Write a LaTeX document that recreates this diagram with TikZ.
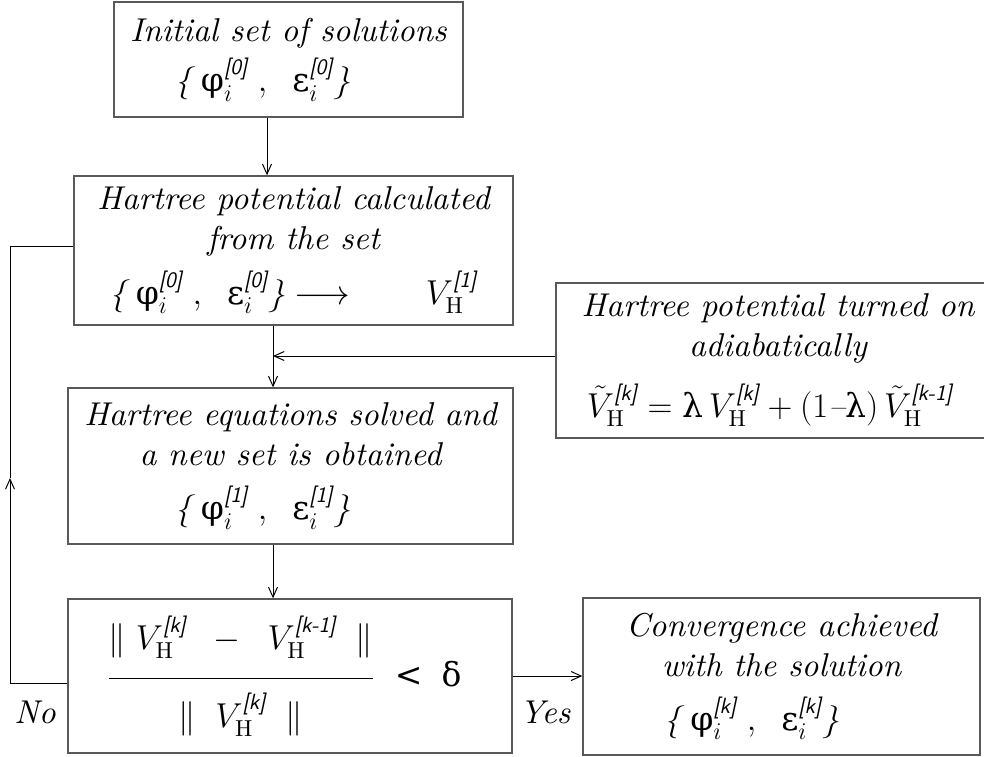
\documentclass[tikz,border=0pt]{standalone}
\usepackage{amsmath}
\usepackage{fontspec}
\setmainfont{lmroman10}[Extension=.otf,UprightFont=*-regular,ItalicFont=*-italic,BoldFont=*-bold]
\newfontfamily\grkfont{DejaVu Serif}
\usetikzlibrary{arrows.meta}
\newcommand{\gsym}[1]{\mbox{\grkfont\upshape #1}}
\newcommand{\idx}[1]{\mbox{\fontsize{11}{11}\selectfont\sffamily\itshape #1}}
\newcommand{\VH}[1]{V_{\mathrm{H}}^{\idx{#1}}}
\newcommand{\solset}[1]{\textit{\{}\;\gsym{φ}_{i}^{\idx{#1}}\;,\;\;\gsym{ε}_{i}^{\idx{#1}}\textit{\}}}

\begin{document}
\begin{tikzpicture}[x=0.5pt,y=-0.5pt,font=\fontsize{16.5}{20}\selectfont\itshape,
  box/.style={draw=black!65,line width=0.7pt,align=center,inner sep=0pt},
  arr/.style={-{Straight Barb[length=5pt,width=4.5pt]},line width=0.5pt}]
\useasboundingbox (0,0) rectangle (984,756);
\node[box,minimum width=174.5pt,minimum height=57.5pt] (init) at (288.5,59.5) {Initial set of solutions\\[4pt] $\solset{[0]}$\hspace*{26pt}};
\node[box,minimum width=219.5pt,minimum height=74.5pt] (hcalc) at (293.5,250.5) {Hartree potential calculated\\ from the set\\[6pt] $\solset{[0]}\longrightarrow\qquad\VH{[1]}$};
\node[box,minimum width=222pt,minimum height=77.5pt] (adiab) at (778,360.5) {Hartree potential turned on\\ adiabatically\\[9pt] $\tilde{V}_{\mathrm{H}}^{\idx{[k]}}=\gsym{λ}\,\VH{[k]}+(1\text{–}\gsym{λ})\,\tilde{V}_{\mathrm{H}}^{\idx{[k-1]}}$\hspace*{8pt}};
\node[box,minimum width=222.5pt,minimum height=78pt] (hsolve) at (290.5,466) {Hartree equations solved and\\ a new set is obtained\\[7pt] $\solset{[1]}$\hspace*{28pt}};
\node[box,minimum width=222pt,minimum height=77pt] (check) at (290,676) {$\dfrac{\|\;\VH{[k]}\;\;-\;\;\VH{[k-1]}\;\;\|\rule[-12pt]{0pt}{12pt}}{\rule{0pt}{22pt}\|\;\;\VH{[k]}\;\;\|}\;\;\gsym{<}\;\;\gsym{δ}$\hspace*{6pt}};
\node[box,minimum width=198.5pt,minimum height=78.5pt] (done) at (781.5,676.5) {Convergence achieved\\ with the solution\\[7pt] $\solset{[k]}$\hspace*{30pt}};
\node (no) at (35,712) {No};
\node (yes) at (545,712) {Yes};
\coordinate (c1) at (267,0);
\coordinate (c2) at (273,0);
\coordinate (c3) at (0,356);
\coordinate (c4) at (0,683);
\coordinate (c5) at (0,246);
\coordinate (fb) at (10,478);
\draw[arr] (init.south -| c1) -- (hcalc.north -| c1);
\draw[arr] (hcalc.south -| c2) -- (hsolve.north -| c2);
\draw[arr] (adiab.west |- c3) -- (c2 |- c3);
\draw[arr] (hsolve.south -| c2) -- (check.north -| c2);
\draw[arr] (check.east) -- (check.east -| done.west);
\draw[arr] (check.west |- c4) -| (fb);
\draw (fb) |- (hcalc.west |- c5);
\end{tikzpicture}
\end{document}
